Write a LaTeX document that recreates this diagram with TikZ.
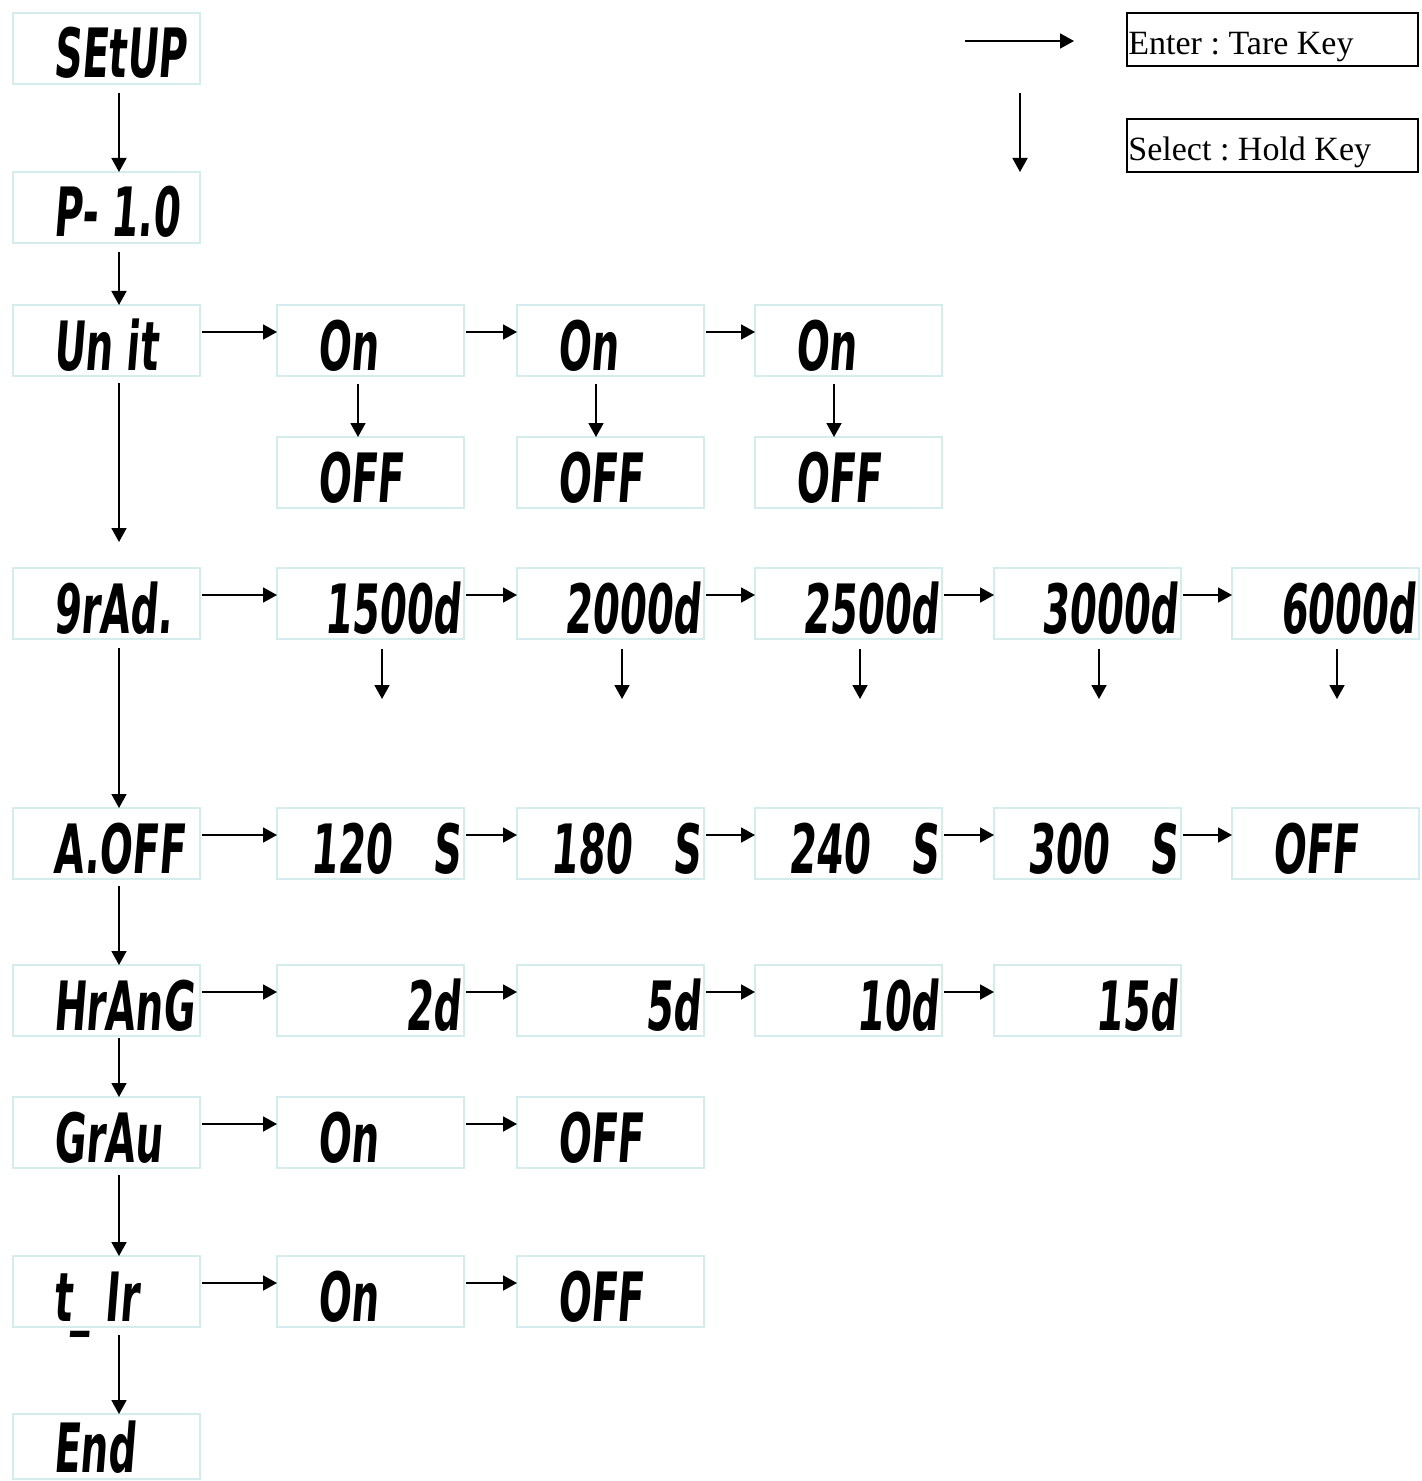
\documentclass[tikz,border=0pt]{standalone}
\usepackage{fontspec}
\setmainfont{Liberation Serif}
\newfontfamily\lcdfont{DejaVu Sans}[FakeStretch=0.57,FakeSlant=0.08]
\usetikzlibrary{arrows.meta,calc}
\definecolor{boxc}{RGB}{212,236,236}
\frenchspacing
\begin{document}
\begin{tikzpicture}[x=0.5pt,y=-0.5pt,
  lcdbox/.style={draw=boxc,line width=0.7pt,minimum width=93.5pt,minimum height=35.5pt,inner sep=0pt,outer sep=0pt,anchor=north west},
  lcdl/.style={font=\lcdfont\bfseries\fontsize{34}{34}\selectfont,inner sep=0pt,anchor=base west},
  lcdr/.style={font=\lcdfont\bfseries\fontsize{34}{34}\selectfont,inner sep=0pt,anchor=base east},
  arr/.style={line width=0.9pt,-{Triangle[length=7pt,width=7.5pt]}},
  keybox/.style={draw=black,line width=0.9pt,minimum width=145.5pt,minimum height=26.5pt,inner sep=0pt,outer sep=0pt,anchor=north west},
  keytxt/.style={font=\fontsize{17}{17}\selectfont,inner sep=0pt,anchor=base west}]
\useasboundingbox (0,0) rectangle (1422,1481);
\fill[white] (0,0) rectangle (1422,1481);

% ---------- left column ----------
\node[lcdbox] (setup) at (13,13) {};
\node[lcdbox] (p10)   at (13,172) {};
\node[lcdbox] (unit)  at (13,305) {};
\node[lcdbox] (grad)  at (13,568) {};
\node[lcdbox] (aoff)  at (13,808) {};
\node[lcdbox] (hrang) at (13,965) {};
\node[lcdbox] (grau)  at (13,1097) {};
\node[lcdbox] (tir)   at (13,1256) {};
\node[lcdbox,minimum height=32.5pt] (end) at (13,1414) {};

\node[lcdl] (tsetup) at ($(setup.north west)+(40,65)$) {SEtUP};
\node[lcdl] (tp10)   at ($(p10.north west)+(40,65)$) {P- 1.0};
\node[lcdl] (tunit)  at ($(unit.north west)+(40,65)$) {Un it};
\node[lcdl] (tgrad)  at ($(grad.north west)+(40,65)$) {9rAd.};
\node[lcdl] (taoff)  at ($(aoff.north west)+(40,65)$) {A.OFF};
\node[lcdl] (thrang) at ($(hrang.north west)+(40,65)$) {HrAnG};
\node[lcdl] (tgrau)  at ($(grau.north west)+(40,65)$) {GrAu};
\node[lcdl] (ttir)   at ($(tir.north west)+(40,65)$) {t\_ Ir};
\node[lcdl] (tend)   at ($(end.north west)+(40,58)$) {End};

% ---------- Unit row ----------
\node[lcdbox] (u1) at (277,305) {};
\node[lcdbox] (u2) at (517,305) {};
\node[lcdbox] (u3) at (755,305) {};
\node[lcdbox] (o1) at (277,437) {};
\node[lcdbox] (o2) at (517,437) {};
\node[lcdbox] (o3) at (755,437) {};
\node[lcdl] (tu1) at ($(u1.north west)+(40,65)$) {On};
\node[lcdl] (tu2) at ($(u2.north west)+(40,65)$) {On};
\node[lcdl] (tu3) at ($(u3.north west)+(40,65)$) {On};
\node[lcdl] (to1) at ($(o1.north west)+(40,65)$) {OFF};
\node[lcdl] (to2) at ($(o2.north west)+(40,65)$) {OFF};
\node[lcdl] (to3) at ($(o3.north west)+(40,65)$) {OFF};

% ---------- grad row ----------
\node[lcdbox] (g1) at (277,568) {};
\node[lcdbox] (g2) at (517,568) {};
\node[lcdbox] (g3) at (755,568) {};
\node[lcdbox] (g4) at (994,568) {};
\node[lcdbox] (g5) at (1232,568) {};
\node[lcdr] (tg1) at ($(g1.north east)+(-3,65)$) {1500d};
\node[lcdr] (tg2) at ($(g2.north east)+(-3,65)$) {2000d};
\node[lcdr] (tg3) at ($(g3.north east)+(-3,65)$) {2500d};
\node[lcdr] (tg4) at ($(g4.north east)+(-3,65)$) {3000d};
\node[lcdr] (tg5) at ($(g5.north east)+(-3,65)$) {6000d};

% ---------- A.OFF row ----------
\node[lcdbox] (a1) at (277,808) {};
\node[lcdbox] (a2) at (517,808) {};
\node[lcdbox] (a3) at (755,808) {};
\node[lcdbox] (a4) at (994,808) {};
\node[lcdbox] (a5) at (1232,808) {};
\node[lcdr] (ta1) at ($(a1.north east)+(-3,65)$) {120\hspace{0.6em}S};
\node[lcdr] (ta2) at ($(a2.north east)+(-3,65)$) {180\hspace{0.6em}S};
\node[lcdr] (ta3) at ($(a3.north east)+(-3,65)$) {240\hspace{0.6em}S};
\node[lcdr] (ta4) at ($(a4.north east)+(-3,65)$) {300\hspace{0.6em}S};
\node[lcdl] (ta5) at ($(a5.north west)+(40,65)$) {OFF};

% ---------- HrAnG row ----------
\node[lcdbox] (h1) at (277,965) {};
\node[lcdbox] (h2) at (517,965) {};
\node[lcdbox] (h3) at (755,965) {};
\node[lcdbox] (h4) at (994,965) {};
\node[lcdr] (th1) at ($(h1.north east)+(-3,65)$) {2d};
\node[lcdr] (th2) at ($(h2.north east)+(-3,65)$) {5d};
\node[lcdr] (th3) at ($(h3.north east)+(-3,65)$) {10d};
\node[lcdr] (th4) at ($(h4.north east)+(-3,65)$) {15d};

% ---------- GrAu row ----------
\node[lcdbox] (r1) at (277,1097) {};
\node[lcdbox] (r2) at (517,1097) {};
\node[lcdl] (tr1) at ($(r1.north west)+(40,65)$) {On};
\node[lcdl] (tr2) at ($(r2.north west)+(40,65)$) {OFF};

% ---------- t_Ir row ----------
\node[lcdbox] (t1) at (277,1256) {};
\node[lcdbox] (t2) at (517,1256) {};
\node[lcdl] (tt1) at ($(t1.north west)+(40,65)$) {On};
\node[lcdl] (tt2) at ($(t2.north west)+(40,65)$) {OFF};

% ---------- legend ----------
\node[keybox] (kenter) at (1127,13) {};
\node[keybox] (kselect) at (1127,119) {};
\node[keytxt] (tenter) at ($(kenter.north west)+(1,42)$) {Enter : Tare Key};
\node[keytxt] (tselect) at ($(kselect.north west)+(1,42)$) {Select : Hold Key};
\coordinate (la) at (965,41);
\coordinate (lb) at (1074,41);
\coordinate (lc) at (1020,93);
\coordinate (ld) at (1020,172);
\draw[arr] (la) -- (lb);
\draw[arr] (lc) -- (ld);

% ---------- vertical main arrows ----------
\draw[arr] ($(setup.south west)+(106,9)$) -- ($(p10.north west)+(106,0)$);
\draw[arr] ($(p10.south west)+(106,9)$) -- ($(unit.north west)+(106,0)$);
\draw[arr] ($(unit.south west)+(106,7)$) -- ($(grad.north west)+(106,-26)$);
\draw[arr] ($(grad.south west)+(106,9)$) -- ($(aoff.north west)+(106,0)$);
\draw[arr] ($(aoff.south west)+(106,7)$) -- ($(hrang.north west)+(106,0)$);
\draw[arr] ($(hrang.south west)+(106,2)$) -- ($(grau.north west)+(106,0)$);
\draw[arr] ($(grau.south west)+(106,7)$) -- ($(tir.north west)+(106,0)$);
\draw[arr] ($(tir.south west)+(106,8)$) -- ($(end.north west)+(106,0)$);

% ---------- Unit sub arrows ----------
\draw[arr] ($(u1.south west)+(81,8)$) -- ($(o1.north west)+(81,0)$);
\draw[arr] ($(u2.south west)+(79,8)$) -- ($(o2.north west)+(79,0)$);
\draw[arr] ($(u3.south west)+(79,8)$) -- ($(o3.north west)+(79,0)$);

% ---------- grad dangling arrows ----------
\foreach \g in {g1,g2,g3,g4,g5}{
  \coordinate (\g-tip) at ($(\g.south west)+(105,60)$);
  \draw[arr] ($(\g.south west)+(105,10)$) -- (\g-tip);
}

% ---------- horizontal arrows ----------
\foreach \a/\b in {unit/u1,u1/u2,u2/u3,grad/g1,g1/g2,g2/g3,g3/g4,g4/g5,aoff/a1,a1/a2,a2/a3,a3/a4,a4/a5,hrang/h1,h1/h2,h2/h3,h3/h4,grau/r1,r1/r2,tir/t1,t1/t2}{
  \draw[arr] ($(\a.north east)+(2,27)$) -- ($(\b.north west)+(0,27)$);
}
\end{tikzpicture}
\end{document}
